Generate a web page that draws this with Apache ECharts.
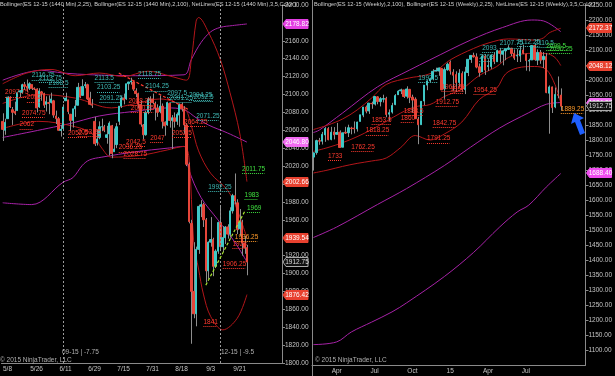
<!DOCTYPE html>
<html><head><meta charset="utf-8">
<script src="https://cdn.jsdelivr.net/npm/echarts@6/dist/echarts.min.js"></script>
<style>html,body{margin:0;padding:0;background:#000;overflow:hidden}#c{width:615px;height:376px}</style>
</head><body><div id="c"></div><script>
// ---------- LEFT PANEL (daily, ES 12-15) ----------
const leftDates=["5/6","5/7","5/8","5/11","5/12","5/13","5/14","5/15","5/18","5/19","5/20","5/21","5/22","5/25","5/26","5/27","5/28","5/29","6/1","6/2","6/3","6/4","6/5","6/8","6/9","6/10","6/11","6/12","6/15","6/16","6/17","6/18","6/19","6/22","6/23","6/24","6/25","6/26","6/29","6/30","7/1","7/2","7/3","7/6","7/7","7/8","7/9","7/10","7/13","7/14","7/15","7/16","7/17","7/20","7/21","7/22","7/23","7/24","7/27","7/28","7/29","7/30","7/31","8/3","8/4","8/5","8/6","8/7","8/10","8/11","8/12","8/13","8/14","8/17","8/18","8/19","8/20","8/21","8/24","8/25","8/26","8/27","8/28","8/31","9/1","9/2","9/3","9/4","9/7","9/8","9/9","9/10","9/11","9/14","9/15","9/16","9/17","9/18","9/21","9/22","9/23","9/24"];
const leftLabelIdx=[2,14,26,38,50,62,74,86,98];
// [open, close, low, high]
const leftCandles=[
[2070,2061,2048,2079],[2060,2069,2055,2073],[2073,2097,2073,2098],[2097,2086,2085,2098],[2083,2080,2066,2086],
[2081,2079,2077,2092],[2082,2102,2082,2102],[2103,2104,2097,2105],[2102,2111,2101,2112],[2111,2109,2105,2114],
[2109,2107,2103,2116.75],[2107,2112,2105,2113.75],[2111,2107,2105,2111],[2107,2106,2105,2108],[2106,2085,2080,2107],
[2086,2104,2085,2107],[2103,2101,2093,2104],[2101,2088,2085,2102],[2089,2092,2081,2098],[2091,2090,2078,2099],
[2091,2095,2090,2102],[2093,2077,2074,2094],[2076,2073,2067,2082],[2073,2060,2060,2075],[2060,2061,2053,2066],
[2062,2086,2061,2089],[2093,2096,2093,2102],[2094,2081,2078,2094],[2078,2071,2059,2078],[2071,2084,2063,2084],
[2084,2087,2075,2094],[2088,2108,2088,2113],[2108,2097,2096,2109],[2099,2109,2099,2117],[2110,2111,2107,2114],
[2111,2095,2094,2112],[2096,2089,2088,2103],[2089,2088,2085,2095],[2070,2045,2042.5,2075],[2046,2050,2043,2061],
[2052,2064,2050,2070],[2064,2064,2059,2073],[2064,2060,2058,2066],[2052,2055,2045,2065],[2056,2068,2032,2070],
[2065,2034,2028.75,2066],[2036,2039,2036,2062],[2044,2064,2040,2068],[2070,2087,2066,2087],[2087,2096,2085,2098],
[2096,2094,2089,2101],[2095,2112,2094,2112],[2112,2114,2105,2114],[2114,2115,2111,2118.75],[2114,2106,2104,2115],
[2104,2101,2097,2107],[2101,2089,2085,2102],[2089,2067,2064,2093],[2066,2055,2050,2067],[2055,2080,2054,2082],
[2080,2095,2078,2097],[2094,2095,2081,2098],[2095,2091,2089,2101],[2090,2085,2071,2092],[2085,2080,2075,2089],
[2081,2087,2079,2099],[2087,2070,2062,2090],[2069,2065,2054,2070],[2066,2091,2065,2092],[2090,2071,2063,2091],
[2071,2074,2039,2077],[2074,2070,2063,2080],[2070,2078,2066,2080],[2077,2089,2064,2090],[2089,2084,2081,2091],
[2084,2066,2056,2087],[2066,2022,2020,2068],[2022,1958,1956,2024],[1956,1880,1821.5,1960],[1880,1855,1850,1935],
[1855,1927,1841,1930],[1927,1975,1922,1977],[1975,1977,1963,1982],[1977,1960,1952,1979],[1960,1903,1890,1962],
[1903,1935,1894,1936],[1935,1938,1930,1963],[1938,1908,1897,1940],[1908,1925,1906,1927],[1925,1957,1922,1958],
[1957,1930,1925,1975],[1930,1940,1924,1953],[1940,1952,1933,1953],[1952,1944,1939,1955],[1944,1970,1940,1974],
[1970,1987,1967,1989],[1987,1981,1977,2011.75],[1979,1949,1944,1983],[1950,1957,1942,1972],[1957,1934,1920,1960],
[1934,1929,1922,1942],[1929,1912.75,1898,1932]];
const leftBB25Upper=[[0,2112],[10,2124],[20,2128],[30,2121],[40,2124],[50,2120],[60,2126],[70,2120],[76,2116],[78,2139],[80,2182],[81,2186],[85,2170],[90,2139],[94,2102],[98,2057],[101,2002.66]];
const leftBB25Mid=[[0,2090],[15,2100],[30,2096],[45,2085],[55,2090],[65,2095],[75,2085],[78,2065],[81,2037],[86,2012],[93,1993],[97,1971],[101,1939.54]];
const leftBB25Lower=[[0,2062],[15,2070],[30,2064],[37,2056],[41,2040],[45,2030],[57,2032],[68,2038],[75,2042],[77,2030],[79,1935],[81,1905],[83,1877],[86,1852],[91,1837],[97,1850],[101,1876.42]];
const leftBB100Upper=[[0,2116],[16,2127],[25,2124],[37,2122],[55,2121],[75,2122],[78,2139],[82,2158],[86,2170],[90,2175],[95,2177],[101,2178.82]];
const leftBB100Mid=[[0,2052],[27,2067],[40,2076],[54,2081],[68,2085],[75,2083],[80,2074],[85,2066],[93,2057],[101,2046.8]];
const leftBB100Lower=[[0,1979],[12,1977],[25,2002],[29,2007],[33,2021],[36,2027],[41,2030],[55,2036],[68,2040],[75,2042],[77,2016],[82,1985],[89,1960],[96,1935],[101,1913]];
const leftTrendRed=[[48,2124],[77,2083]];
const leftTrendGreen=[[84,1887],[100,1969]];
const leftHighLabels=[[12,2116.75],[15,2113.75],[19,2108.5],[38,2113.5],[39,2103.25],[40,2091.25],[56,2118.75],[59,2104.25],[68,2097.5],[69,2091.25],[77,2094.25],[79,2092.5],[80,2071.25],[85,1992.25]];
const leftLowLabels=[[1,2097.75],[10,2092],[8,2074.75],[7,2062],[27,2052.5],[31,2053.25],[48,2036.25],[50,2028.75],[51,2042.5],[52,2088.25],[53,2080.25],[61,2047],[70,2052.5],[75,2064.25],[91,1906.25],[83,1841],[95,1928]];
const leftGreenLabels=[[99,2011.75],[100,1983],[101,1969]];
const leftOrangeLabels=[[96,1936.25]];
const leftTagValues=[2178.82,2046.80,2002.66,1939.54,1876.42,1912.75];
const leftRollIdx=[25,90];

// ---------- RIGHT PANEL (weekly, ES 12-15) ----------
const rightDates=["2/7","2/14","2/21","2/28","3/7","3/14","3/21","3/28","4/4","4/11","4/17","4/25","5/2","5/9","5/16","5/23","5/30","6/6","6/13","6/20","6/27","7/3","7/11","7/18","7/25","8/1","8/8","8/15","8/22","8/29","9/5","9/12","9/19","9/26","10/3","10/10","10/17","10/24","10/31","11/7","11/14","11/21","11/28","12/5","12/12","12/19","12/26","1/2","1/9","1/16","1/23","1/30","2/6","2/13","2/20","2/27","3/6","3/13","3/20","3/27","4/2","4/10","4/17","4/24","5/1","5/8","5/15","5/22","5/29","6/5","6/12","6/19","6/26","7/2","7/10","7/17","7/24","7/31","8/7","8/14","8/21","8/28","9/4","9/11","9/18","9/25"];
const rightLabelIdx=[8,21,34,47,60,73];
const rightLabelText=["Apr","Jul","Oct","15","Apr","Jul"];
const rightCandles=[
[1743,1757,1698,1758],[1758,1798,1751,1801],[1798,1796,1784,1807],[1796,1819,1785,1827],[1817,1838,1794,1843],
[1838,1801,1799,1843],[1802,1826,1799,1844],[1827,1817,1802,1843],[1819,1825,1818,1857],[1826,1775,1774,1832],
[1776,1824,1776,1825],[1826,1823,1820,1844],[1824,1841,1810,1851],[1840,1838,1819,1844],[1840,1837,1822,1862],
[1837,1860,1828,1861],[1862,1884,1862,1884],[1883,1910,1876,1910],[1910,1896,1889,1915],[1897,1923,1887,1923],
[1922,1921,1904,1928],[1920,1945,1915,1945],[1944,1928,1919,1946],[1928,1938,1912,1943],[1936,1938,1925,1951],
[1939,1885,1876,1944],[1886,1891,1864,1902],[1893,1915,1888,1924],[1918,1948,1916,1953],[1951,1963,1950,1966],
[1964,1967,1953,1971],[1967,1945,1940,1967],[1946,1970,1938,1979],[1969,1942,1923,1969],[1943,1933,1891,1951],
[1936,1871,1871,1942],[1870,1851,1786,1877],[1851,1929,1851,1930],[1930,1983,1916,1983],[1983,1997,1966,1999],
[1997,2004,1992,2006],[2004,2029,1999,2036],[2030,2032,2028,2041],[2030,2040,2014,2042],[2039,1967,1967,2040],
[1970,2035,1937,2042],[2034,2053,2031,2058],[2060,2030,2018,2065],[2026,2016,1964,2036],[2018,1991,1960,2029],
[1992,2023,1976,2036],[2022,1967,1961,2029],[1968,2027,1953,2044],[2025,2069,2013,2069],[2069,2082,2057,2082],
[2082,2077,2075,2091],[2077,2043,2039,2089],[2044,2025,2011,2055],[2027,2080,2027,2086],[2080,2033,2017,2086],
[2045,2048,2030,2069],[2045,2083,2037,2083],[2083,2062,2053,2092],[2061,2098,2061,2101],[2097,2089,2058,2107],
[2086,2097,2049,2101],[2097,2104,2066,2104],[2102,2107,2101,2116],[2106,2088,2080,2107],[2089,2073,2067,2102],
[2080,2082,2060,2103],[2080,2098,2060,2114],[2100,2089,2086,2118],[2086,2065,2031,2088],[2063,2065,2029,2071],
[2067,2115,2066,2115],[2115,2068,2064,2119],[2066,2092,2050,2102],[2092,2066,2054,2100],[2068,2079,2040,2093],
[2078,1958,1956,2090],[1956,1977,1821,1982],[1977,1908,1890,1978],[1910,1952,1906,1975],[1952,1949,1939,2011.75],
[1950,1912.75,1898,1972]];
const rightBB25Upper=[[0,1835],[5,1850],[10,1870],[15,1900],[20,1940],[25,1985],[33,2007],[38,2015],[42,2030],[47,2067],[55,2105],[60,2123],[67,2137],[72,2135],[76,2133],[79,2140],[81,2157],[85,2172.37]];
const rightBB25Mid=[[0,1762],[5,1775],[10,1791],[15,1811],[20,1835],[25,1862],[30,1890],[35,1911],[40,1918],[45,1945],[51,1970],[57,2015],[63,2045],[67,2075],[72,2087],[76,2089],[80,2088],[83,2075],[85,2048.12]];
const rightBB25Lower=[[0,1690],[5,1700],[10,1712],[15,1722],[20,1730],[25,1740],[30,1775],[35,1815],[40,1800],[45,1820],[51,1860],[57,1935],[63,1973],[66,2020],[70,2040],[76,2045],[80,2035],[83,1985],[85,1923.87]];
const rightBB100Upper=[[0,1825],[2,1833],[10,1890],[22,1977],[33,2033],[40,2067],[54,2133],[65,2175],[75,2200],[79,2197],[85,2161]];
const rightBB100Mid=[[0,1475],[8,1510],[22,1585],[32,1638],[45,1715],[54,1776],[64,1840],[74,1891],[80,1919],[85,1924.87]];
const rightBB100Lower=[[0,1118],[8,1127],[13,1160],[20,1193],[27,1227],[32,1257],[45,1345],[55,1425],[64,1510],[70,1560],[74,1583],[80,1643],[85,1688.4]];
const rightHighLabels=[[36,1993.5],[57,2063],[58,2093],[64,2107.75],[70,2112.25],[76,2110.5]];
const rightLowLabels=[[5,1733],[13,1762.25],[18,1818.25],[20,1853.5],[30,1860],[31,1883.5],[39,1791.25],[41,1842.75],[42,1912.75],[44,1962.25],[47,1957],[55,1954.25]];
const rightGreenLabels=[[80,2099.5],[81,2090.25]];
const rightOrangeLabels=[[85,1889.25]];
const rightTagValues=[2172.37,2048.12,1924.87,1688.40,1912.75];

// ---------- styles ----------
const UP='#3fc8c6', DOWN='#e6463a', WICK='#8e8e8e';
const RED_BAND='#b3161a', MAG_BAND='#a722a7';
const FONT='6.5px "Liberation Sans", Arial, sans-serif';
const HFONT='5.7px "Liberation Sans", Arial, sans-serif';
const leftTagStyles=[['#e23ee2','#fff'],['#f26cf2','#fff'],['#e8412f','#fff'],['#e8412f','#fff'],['#e8412f','#fff'],['#111','#ddd','#aaa']];
const rightTagStyles=[['#e8412f','#fff'],['#e8412f','#fff'],['#f26cf2','#fff'],['#ef4cef','#fff'],['#111','#ddd','#aaa']];

function cats(dates,total){const a=dates.slice();for(let i=dates.length;i<total;i++)a.push('_'+i);return a;}
function wickSeries(xi,yi,candles){
  return {type:'custom',xAxisIndex:xi,yAxisIndex:yi,z:3,silent:true,
    data:candles.map((d,i)=>[i,d[2],d[3]]),encode:{x:0,y:[1,2]},
    renderItem(p,api){const a=api.coord([api.value(0),api.value(1)]),b=api.coord([api.value(0),api.value(2)]);
      const x=Math.round(a[0])+0.5;
      return {type:'line',shape:{x1:x,y1:a[1],x2:x,y2:b[1]},style:{stroke:WICK,lineWidth:1}};}};
}
function bodySeries(xi,yi,candles,extra){
  return Object.assign({type:'candlestick',xAxisIndex:xi,yAxisIndex:yi,z:4,silent:true,barWidth:2,
    data:candles.map(d=>[d[0],d[1],Math.min(d[0],d[1]),Math.max(d[0],d[1])]),
    itemStyle:{color:UP,color0:DOWN,borderColor:UP,borderColor0:DOWN,borderWidth:1}},extra||{});
}
function band(xi,yi,data,color){
  return {type:'line',xAxisIndex:xi,yAxisIndex:yi,data,smooth:0.35,symbol:'none',z:2,silent:true,
    lineStyle:{color,width:1}};
}
function trend(xi,yi,data,color){
  return {type:'line',xAxisIndex:xi,yAxisIndex:yi,data,symbol:'none',z:5,silent:true,
    lineStyle:{color,width:1.2,type:[3,2]}};
}
function labels(xi,yi,data,color){
  return {type:'custom',xAxisIndex:xi,yAxisIndex:yi,data,encode:{x:0,y:1},z:6,silent:true,
    renderItem(p,api){const pt=api.coord([api.value(0),api.value(1)]);const t=String(api.value(1));const w=t.length*3.2;
      return {type:'group',children:[
        {type:'text',x:pt[0],y:pt[1]-0.5,style:{text:t,fill:color,font:FONT,align:'left',verticalAlign:'bottom'}},
        {type:'line',shape:{x1:pt[0],y1:Math.round(pt[1])+0.5,x2:pt[0]+w,y2:Math.round(pt[1])+0.5},style:{stroke:color,lineWidth:1,lineDash:[1,1]}}]};}};
}
function tags(xi,yi,values,styles){
  return {type:'custom',xAxisIndex:xi,yAxisIndex:yi,data:values.map(v=>[0,v]),encode:{x:0,y:1},z:10,clip:false,silent:true,
    renderItem(p,api){const y=Math.round(api.coord([0,api.value(1)])[1]);const x=p.coordSys.x+p.coordSys.width;const s=styles[p.dataIndex];
      return {type:'group',children:[
        {type:'polygon',shape:{points:[[x+1,y],[x+4,y-4.5],[x+26,y-4.5],[x+26,y+4.5],[x+4,y+4.5]]},style:{fill:s[0],stroke:s[2]||s[0],lineWidth:1}},
        {type:'text',x:x+15,y:y+0.5,style:{text:api.value(1).toFixed(2),fill:s[1],font:FONT,align:'center',verticalAlign:'middle'}}]};}};
}
function yAx(gi,min,max,interval,showMin){
  return {type:'value',gridIndex:gi,position:'right',min,max,interval,
    axisLine:{show:true,lineStyle:{color:'#8a8a8a'}},axisTick:{show:true,length:3,lineStyle:{color:'#8a8a8a'}},
    splitLine:{show:false},axisLabel:{color:'#c4c4c4',fontSize:6.5,fontFamily:'Liberation Sans',margin:3,showMinLabel:showMin,formatter:v=>v.toFixed(2)}};
}
const LN=116, RN=94;
const chart=echarts.init(document.getElementById('c'),null,{renderer:'canvas'});
chart.setOption({
  backgroundColor:'#000',animation:false,
  grid:[{left:0,top:5,width:282,height:358},{left:312,top:5,width:275,height:360}],
  xAxis:[
    {type:'category',gridIndex:0,data:cats(leftDates,LN),boundaryGap:true,
      axisLine:{lineStyle:{color:'#8a8a8a'}},axisTick:{interval:0,length:2,lineStyle:{color:'#8a8a8a'}},
      axisLabel:{interval:(i)=>leftLabelIdx.includes(i),color:'#c4c4c4',fontSize:6.5,fontFamily:'Liberation Sans',margin:3},splitLine:{show:false}},
    {type:'category',gridIndex:1,data:cats(rightDates,RN),boundaryGap:true,
      axisLine:{lineStyle:{color:'#8a8a8a'}},axisTick:{interval:(i)=>rightLabelIdx.includes(i),length:3,lineStyle:{color:'#8a8a8a'}},
      axisLabel:{interval:(i)=>rightLabelIdx.includes(i),formatter:(v,i)=>rightLabelText[rightLabelIdx.indexOf(i)]||'',color:'#c4c4c4',fontSize:6.5,fontFamily:'Liberation Sans',margin:3},splitLine:{show:false}}
  ],
  yAxis:[yAx(0,1800,2200,20,true),yAx(1,1050,2250,50,false)],
  graphic:[
    {type:'text',left:0,top:1.5,z:20,style:{text:'Bollinger(ES 12-15 (1440 Min),2,25), Bollinger(ES 12-15 (1440 Min),2,100), NetLines(ES 12-15 (1440 Min),3,5,Color [',fill:'#d0d0d0',font:HFONT}},
    {type:'text',left:314,top:1.5,z:20,style:{text:'Bollinger(ES 12-15 (Weekly),2,100), Bollinger(ES 12-15 (Weekly),2,25), NetLines(ES 12-15 (Weekly),3,5,Color [',fill:'#d0d0d0',font:HFONT}},
    {type:'text',left:0,top:357,z:20,style:{text:'© 2015 NinjaTrader, LLC',fill:'#b0b0b0',font:FONT}},
    {type:'text',left:315,top:357,z:20,style:{text:'© 2015 NinjaTrader, LLC',fill:'#b0b0b0',font:FONT}},
    {type:'text',left:62,top:349,z:20,style:{text:'09-15 | -7.75',fill:'#b0b0b0',font:FONT}},
    {type:'text',left:221,top:349,z:20,style:{text:'12-15 | -9.5',fill:'#b0b0b0',font:FONT}},
    {type:'line',z:20,shape:{x1:312.5,y1:0,x2:312.5,y2:376},style:{stroke:'#8a8a8a',lineWidth:1}},
    {type:'polygon',z:20,shape:{points:[[574,113],[584,118],[580,120],[585,133],[580,135],[575,122],[571,124]]},style:{fill:'#1f5fff'}}
  ],
  series:[
    band(0,0,leftBB100Upper,MAG_BAND),band(0,0,leftBB100Mid,MAG_BAND),band(0,0,leftBB100Lower,MAG_BAND),
    band(0,0,leftBB25Upper,RED_BAND),band(0,0,leftBB25Mid,RED_BAND),band(0,0,leftBB25Lower,RED_BAND),
    wickSeries(0,0,leftCandles),
    bodySeries(0,0,leftCandles,{markLine:{silent:true,symbol:'none',label:{show:false},lineStyle:{color:'#9a9a9a',type:[2,2],width:1},data:leftRollIdx.map(i=>({xAxis:i}))}}),
    trend(0,0,leftTrendRed,'#ff3b30'),trend(0,0,leftTrendGreen,'#a6e22e'),
    labels(0,0,leftHighLabels,'#3fb8b4'),labels(0,0,leftLowLabels,'#ff3a2e'),labels(0,0,leftGreenLabels,'#3fe03f'),labels(0,0,leftOrangeLabels,'#ff9a2a'),
    tags(0,0,leftTagValues,leftTagStyles),
    band(1,1,rightBB100Upper,MAG_BAND),band(1,1,rightBB100Mid,MAG_BAND),band(1,1,rightBB100Lower,MAG_BAND),
    band(1,1,rightBB25Upper,RED_BAND),band(1,1,rightBB25Mid,RED_BAND),band(1,1,rightBB25Lower,RED_BAND),
    wickSeries(1,1,rightCandles),bodySeries(1,1,rightCandles),
    labels(1,1,rightHighLabels,'#3fb8b4'),labels(1,1,rightLowLabels,'#ff3a2e'),labels(1,1,rightGreenLabels,'#3fe03f'),labels(1,1,rightOrangeLabels,'#ff9a2a'),
    tags(1,1,rightTagValues,rightTagStyles)
  ]
});
</script></body></html>
